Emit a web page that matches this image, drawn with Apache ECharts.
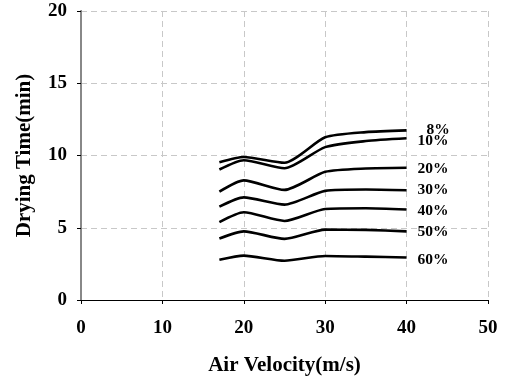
<!DOCTYPE html>
<html>
<head>
<meta charset="utf-8">
<script src="https://cdn.jsdelivr.net/npm/echarts@6/dist/echarts.min.js"></script>
<style>html,body{margin:0;padding:0;background:#fff}#c{width:505px;height:381px}</style>
</head>
<body>
<div id="c"></div>
<script>
var velocity = [17, 20, 25, 30, 35, 40];
var names = ['8%', '10%', '20%', '30%', '40%', '50%', '60%'];
var s8  = [9.54, 9.9, 9.5, 11.26, 11.62, 11.74];
var s10 = [9.03, 9.67, 9.12, 10.58, 11.0, 11.19];
var s20 = [7.5, 8.28, 7.62, 8.87, 9.1, 9.15];
var s30 = [6.46, 7.1, 6.6, 7.55, 7.65, 7.6];
var s40 = [5.39, 6.07, 5.47, 6.3, 6.35, 6.26];
var s50 = [4.25, 4.75, 4.23, 4.87, 4.85, 4.75];
var s60 = [2.78, 3.07, 2.72, 3.05, 3.0, 2.94];
var xTicks = [0, 10, 20, 30, 40, 50];
var yTicks = [0, 5, 10, 15, 20];

var allSeries = [s8, s10, s20, s30, s40, s50, s60];
var labelOffsets = [[20, 0], [11, 3], [11, 1], [11, 0], [11, 1], [11, 1], [11, 2]];
var font = '"Liberation Serif", "Times New Roman", serif';

var chart = echarts.init(document.getElementById('c'));
var series = allSeries.map(function (vals, i) {
  return {
    name: names[i],
    type: 'line',
    smooth: 0.22,
    symbol: 'none',
    xAxisIndex: 0,
    yAxisIndex: 0,
    lineStyle: { color: '#000', width: 2.6 },
    data: velocity.map(function (v, j) { return [v, vals[j]]; }),
    endLabel: {
      show: true,
      formatter: names[i],
      distance: 0,
      offset: labelOffsets[i],
      fontFamily: font,
      fontWeight: 'bold',
      fontSize: 15.5,
      color: '#000'
    }
  };
});

chart.setOption({
  animation: false,
  backgroundColor: '#fff',
  grid: { left: 81, right: 17, top: 11, bottom: 77 },
  xAxis: [{
    type: 'value', min: 0, max: 50, interval: 10,
    name: 'Air Velocity(m/s)', nameLocation: 'middle', nameGap: 55,
    nameTextStyle: { fontFamily: font, fontWeight: 'bold', fontSize: 21, color: '#000' },
    axisLine: { lineStyle: { color: '#000', width: 1 } },
    axisTick: { show: true, length: 4, inside: false, lineStyle: { color: '#000' } },
    axisLabel: { margin: 19, fontFamily: font, fontWeight: 'bold', fontSize: 19, color: '#000',
      formatter: function (v) { return xTicks.indexOf(v) >= 0 ? String(v) : ''; } },
    splitLine: { show: true, lineStyle: { color: '#c8c8c8', type: [6, 4], width: 1 } }
  }, {
    type: 'value', min: 0, max: 50, position: 'top',
    axisLine: { show: true, lineStyle: { color: '#000', width: 1 } },
    axisTick: { show: false }, axisLabel: { show: false }, splitLine: { show: false }
  }],
  yAxis: [{
    type: 'value', min: 0, max: 20, interval: 5,
    name: 'Drying Time(min)', nameLocation: 'middle', nameGap: 46,
    nameTextStyle: { fontFamily: font, fontWeight: 'bold', fontSize: 21, color: '#000' },
    axisLine: { show: true, lineStyle: { color: '#000', width: 1 } },
    axisTick: { show: true, length: 4, inside: false, lineStyle: { color: '#000' } },
    axisLabel: { margin: 14, fontFamily: font, fontWeight: 'bold', fontSize: 19, color: '#000',
      formatter: function (v) { return yTicks.indexOf(v) >= 0 ? String(v) : ''; } },
    splitLine: { show: true, lineStyle: { color: '#c8c8c8', type: [6, 4], width: 1 } }
  }, {
    type: 'value', min: 0, max: 20, position: 'right',
    axisLine: { show: true, lineStyle: { color: '#888', width: 2 } },
    axisTick: { show: false }, axisLabel: { show: false }, splitLine: { show: false }
  }],
  series: series
});
</script>
</body>
</html>
